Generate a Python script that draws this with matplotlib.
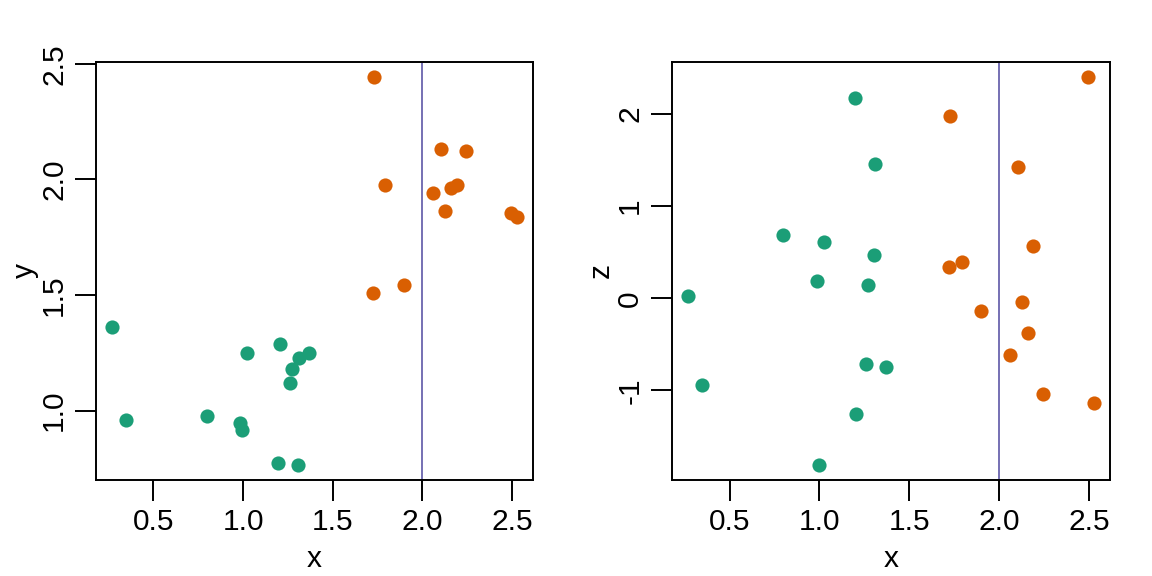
import matplotlib
matplotlib.use("Agg")
import matplotlib.pyplot as plt
import numpy as np

plt.rcParams['font.family'] = ['Liberation Sans', 'DejaVu Sans']
plt.rcParams['axes.unicode_minus'] = False

# data
x_green = [0.270, 0.345, 0.797, 0.985, 0.996, 1.024, 1.196, 1.204, 1.259, 1.270, 1.304, 1.310, 1.369]
y_green = [1.360, 0.961, 0.978, 0.947, 0.915, 1.251, 0.772, 1.288, 1.118, 1.180, 0.767, 1.228, 1.248]
z_green = [0.029, -0.936, 0.688, 0.189, -1.804, 0.607, 2.170, -1.254, -0.712, 0.149, 0.474, 1.461, -0.748]

x_orange = [1.723, 1.728, 1.792, 1.898, 2.060, 2.106, 2.128, 2.158, 2.190, 2.242, 2.495, 2.526]
y_orange = [1.510, 2.441, 1.976, 1.542, 1.943, 2.131, 1.865, 1.961, 1.977, 2.123, 1.857, 1.836]
z_orange = [0.336, 1.974, 0.395, -0.137, -0.614, 1.428, -0.043, -0.372, 0.568, -1.044, 2.397, -1.131]

vline_x = 2.0
x_ticks = [0.5, 1.0, 1.5, 2.0, 2.5]
x_ticklabels = ["0.5", "1.0", "1.5", "2.0", "2.5"]
y_ticks = [1.0, 1.5, 2.0, 2.5]
y_ticklabels = ["1.0", "1.5", "2.0", "2.5"]
z_ticks = [-1, 0, 1, 2]
z_ticklabels = ["-1", "0", "1", "2"]

GREEN = "#1B9E77"
ORANGE = "#D95F02"
PURPLE = "#7570B3"

W, H = 1152, 576
fig = plt.figure(figsize=(W / 100, H / 100), dpi=100)


def r_lim(vals):
    lo, hi = min(vals), max(vals)
    r = hi - lo
    return lo - 0.04 * r, hi + 0.04 * r


def panel(rect, xs_g, vs_g, xs_o, vs_o, yticks, yticklabels, ylabel):
    ax = fig.add_axes(rect)
    ax.plot(xs_g, vs_g, 'o', color=GREEN, ms=10.2, mec=GREEN, mew=0, zorder=3)
    ax.plot(xs_o, vs_o, 'o', color=ORANGE, ms=10.2, mec=ORANGE, mew=0, zorder=3)
    ax.axvline(vline_x, color=PURPLE, lw=1.4, zorder=2)
    ax.set_xlim(*r_lim(xs_g + xs_o))
    ax.set_ylim(*r_lim(vs_g + vs_o))
    ax.set_xticks(x_ticks)
    ax.set_xticklabels(x_ticklabels)
    ax.set_yticks(yticks)
    ax.set_yticklabels(yticklabels, rotation=90, va='center')
    ax.tick_params(direction='out', length=15, width=1.4, labelsize=21.5,
                   colors='black', pad=5)
    for s in ax.spines.values():
        s.set_linewidth(1.4)
        s.set_color('black')
    ax.set_xlabel("x", fontsize=21.5, va='center')
    ax.xaxis.set_label_coords(0.5, -0.19)
    ax.set_ylabel(ylabel, fontsize=21.5, va='center', ha='center')
    ax.yaxis.set_label_coords(-0.162, 0.5)
    return ax


panel([96 / W, 96 / H, 437 / W, 418 / H], x_green, y_green, x_orange, y_orange,
      y_ticks, y_ticklabels, "y")
panel([672 / W, 96 / H, 438 / W, 418 / H], x_green, z_green, x_orange, z_orange,
      z_ticks, z_ticklabels, "z")

fig.savefig("out.png", dpi=100)
